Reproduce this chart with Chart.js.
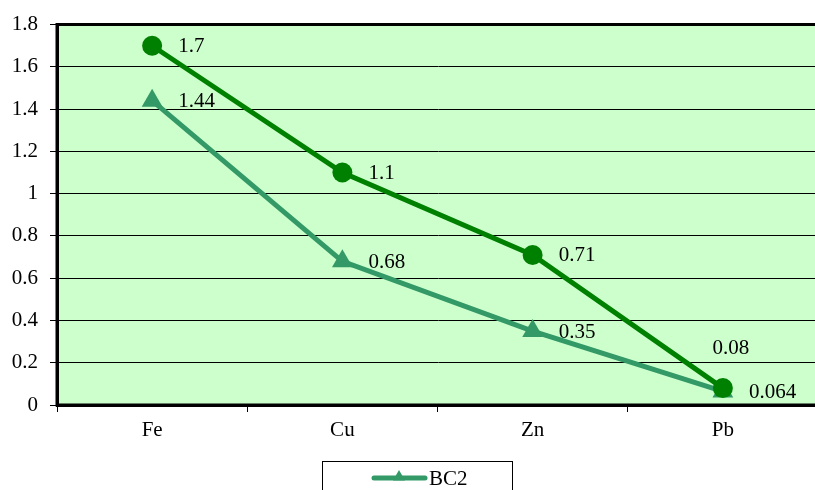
<!DOCTYPE html>
<html>
<head>
<meta charset="utf-8">
<script src="https://cdn.jsdelivr.net/npm/chart.js@4.4.1/dist/chart.umd.min.js"></script>
<style>
  html, body { margin: 0; padding: 0; background: #ffffff; overflow: hidden; }
  #wrap { width: 815px; height: 490px; overflow: hidden; position: relative; }
  canvas { display: block; }
</style>
</head>
<body>
<div id="wrap"><canvas id="chart" width="830" height="490"></canvas></div>
<script>
// Metals on the category axis
const categories = ['Fe', 'Cu', 'Zn', 'Pb'];
// Concentrations per metal
const bc1Values = [1.7, 1.1, 0.71, 0.08];
const bc2Values = [1.44, 0.68, 0.35, 0.064];
// Value axis
const yMin = 0;
const yMax = 1.8;
const yStep = 0.2;

const FONT = "'Liberation Serif', 'Times New Roman', serif";
const FONT_SIZE = 21;

// Solid plot background and the black frame on the left, top and bottom
const plotFrame = {
  id: 'plotFrame',
  beforeDraw(chart) {
    const { ctx, chartArea: a } = chart;
    ctx.save();
    ctx.fillStyle = '#ccffcc';
    ctx.fillRect(a.left, a.top, a.right - a.left, a.bottom - a.top);
    ctx.restore();
  },
  afterDatasetsDraw(chart) {
    const { ctx, chartArea: a } = chart;
    ctx.save();
    ctx.strokeStyle = '#000000';
    ctx.lineWidth = 3;
    ctx.beginPath();
    ctx.moveTo(a.right + 2, a.top);
    ctx.lineTo(a.left, a.top);
    ctx.lineTo(a.left, a.bottom);
    ctx.lineTo(a.right + 2, a.bottom);
    ctx.stroke();
    ctx.restore();
  }
};

// Value labels beside each marker; the last point of the circle line sits its label above
const valueLabels = {
  id: 'valueLabels',
  afterDatasetsDraw(chart) {
    const { ctx } = chart;
    ctx.save();
    ctx.font = FONT_SIZE + 'px ' + FONT;
    ctx.fillStyle = '#000000';
    chart.data.datasets.forEach((ds, di) => {
      const meta = chart.getDatasetMeta(di);
      meta.data.forEach((pt, i) => {
        const text = String(ds.data[i]);
        const place = ds.labelPlace ? ds.labelPlace[i] : 'right';
        ctx.textBaseline = 'middle';
        if (place === 'above') {
          ctx.textAlign = 'center';
          ctx.fillText(text, pt.x + 8, pt.y - 40);
        } else {
          ctx.textAlign = 'left';
          ctx.fillText(text, pt.x + 26, pt.y + 1);
        }
      });
    });
    ctx.restore();
  }
};

// Boxed legend under the axis with the BC2 entry
const boxLegend = {
  id: 'boxLegend',
  afterDraw(chart) {
    const { ctx } = chart;
    const ds = chart.data.datasets[1];
    ctx.save();
    ctx.strokeStyle = '#000000';
    ctx.lineWidth = 1;
    ctx.strokeRect(322.5, 461.5, 190, 40);
    ctx.strokeStyle = ds.borderColor;
    ctx.lineWidth = 5;
    ctx.lineCap = 'round';
    ctx.beginPath();
    ctx.moveTo(374, 478);
    ctx.lineTo(425, 478);
    ctx.stroke();
    ctx.fillStyle = ds.borderColor;
    const r = 7, cx = 399, cy = 477;
    ctx.beginPath();
    ctx.moveTo(cx, cy - r);
    ctx.lineTo(cx + r * 0.866, cy + r * 0.5);
    ctx.lineTo(cx - r * 0.866, cy + r * 0.5);
    ctx.closePath();
    ctx.fill();
    ctx.fillStyle = '#000000';
    ctx.font = FONT_SIZE + 'px ' + FONT;
    ctx.textAlign = 'left';
    ctx.textBaseline = 'middle';
    ctx.fillText(ds.label, 429, 479);
    ctx.restore();
  }
};

new Chart(document.getElementById('chart'), {
  type: 'line',
  data: {
    labels: categories,
    datasets: [
      {
        label: 'BC1',
        data: bc1Values,
        borderColor: '#008000',
        backgroundColor: '#008000',
        borderWidth: 5,
        pointStyle: 'circle',
        pointRadius: 10,
        pointBorderWidth: 0,
        pointHoverRadius: 10,
        tension: 0,
        labelPlace: ['right', 'right', 'right', 'above']
      },
      {
        label: 'BC2',
        data: bc2Values,
        borderColor: '#339966',
        backgroundColor: '#339966',
        borderWidth: 5,
        pointStyle: 'triangle',
        pointRadius: 12,
        pointBorderWidth: 0,
        pointHoverRadius: 12,
        tension: 0
      }
    ]
  },
  options: {
    responsive: false,
    devicePixelRatio: 1,
    animation: false,
    events: [],
    layout: { padding: { top: 22, right: 11, bottom: 0, left: 0 } },
    plugins: {
      legend: { display: false },
      tooltip: { enabled: false }
    },
    scales: {
      x: {
        type: 'category',
        offset: true,
        afterFit(scale) { scale.height = 85; },
        grid: {
          offset: true,
          drawOnChartArea: false,
          drawTicks: true,
          tickLength: 7,
          color: '#000000',
          lineWidth: 1
        },
        border: { display: true, color: '#000000', width: 3 },
        ticks: {
          color: '#000000',
          padding: 6,
          font: { family: FONT, size: FONT_SIZE },
          maxRotation: 0
        }
      },
      y: {
        min: yMin,
        max: yMax,
        afterFit(scale) { scale.width = 57; },
        grid: {
          color: '#000000',
          lineWidth: 1,
          drawTicks: true,
          tickLength: 7,
          tickColor: '#000000'
        },
        border: { display: true, color: '#000000', width: 3 },
        ticks: {
          stepSize: yStep,
          color: '#000000',
          padding: 12,
          font: { family: FONT, size: FONT_SIZE },
          callback: (v) => String(Number(v.toFixed(1)))
        }
      }
    }
  },
  plugins: [plotFrame, valueLabels, boxLegend]
});
</script>
</body>
</html>
